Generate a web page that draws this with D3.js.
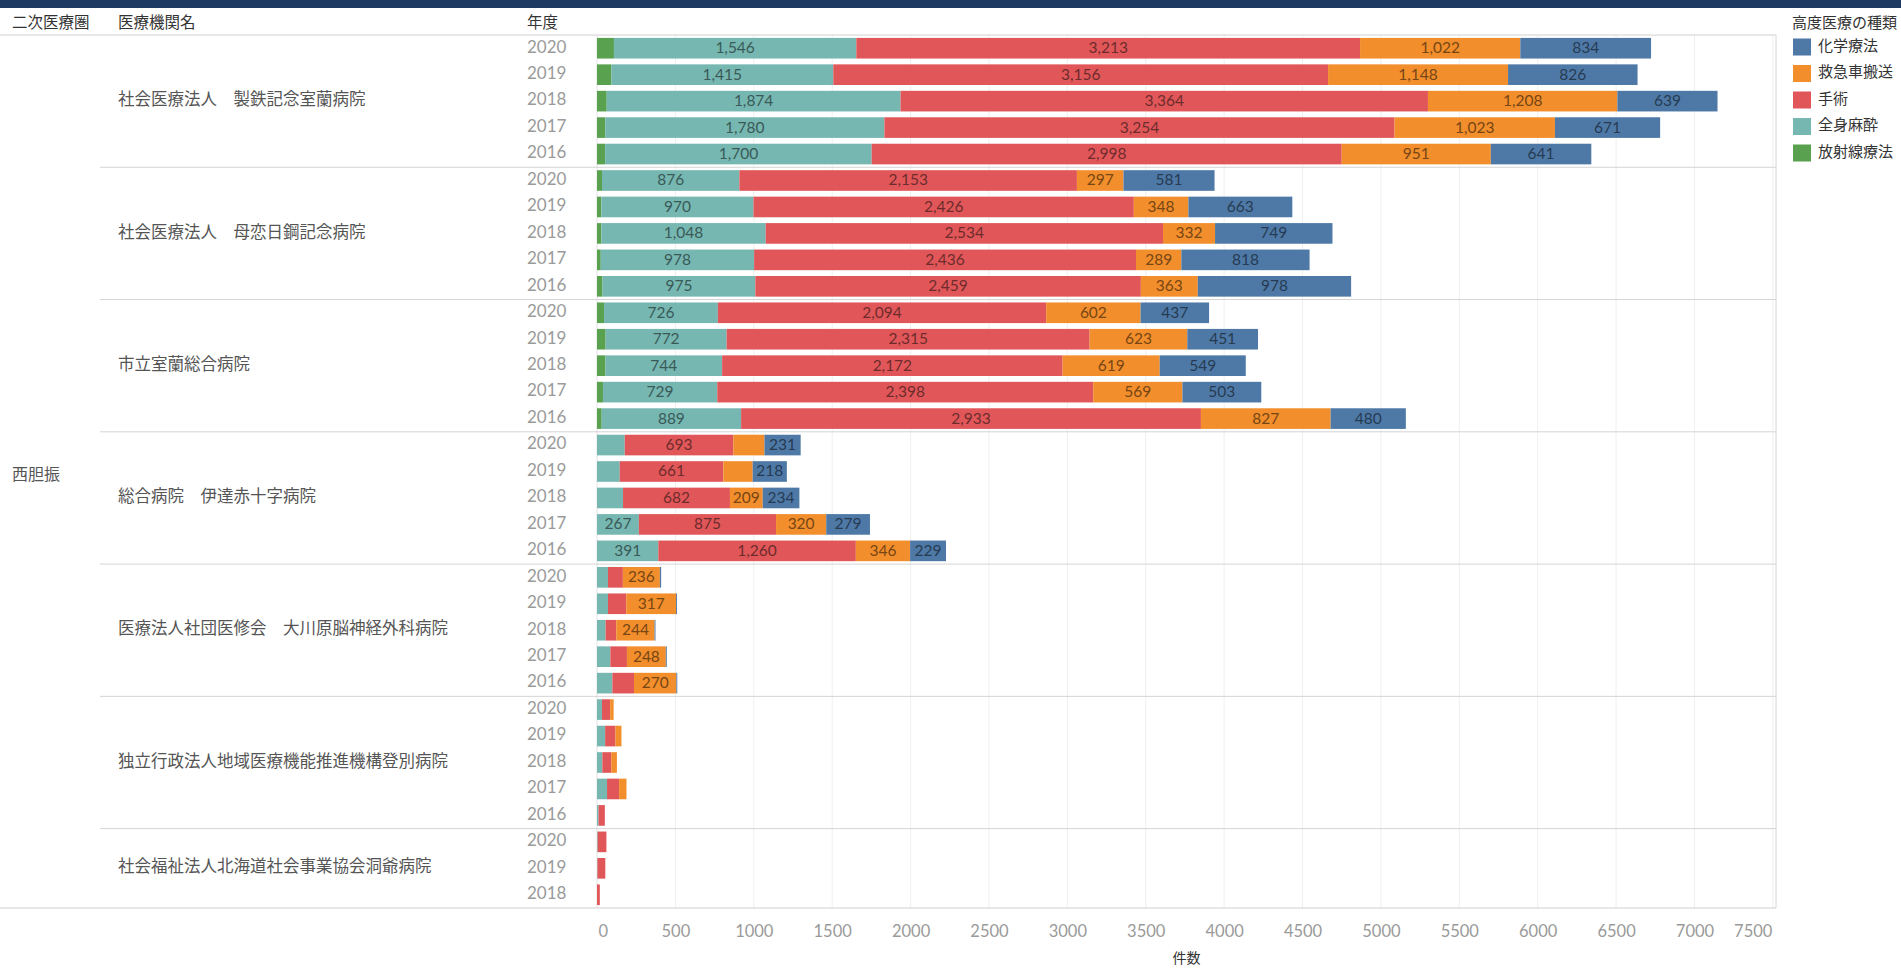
<!DOCTYPE html>
<html>
<head>
<meta charset="utf-8">
<script src="https://cdn.jsdelivr.net/npm/d3@7"></script>
<style>
  body { margin: 0; background: #fff; }
  svg { display: block; font-family: Lato, "Noto Sans CJK JP", sans-serif; }
</style>
</head>
<body>
<svg id="chart" width="1901" height="969"></svg>
<script>
// Data
const region = "西胆振";

const hospitals = [
  "社会医療法人　製鉄記念室蘭病院",
  "社会医療法人　母恋日鋼記念病院",
  "市立室蘭総合病院",
  "総合病院　伊達赤十字病院",
  "医療法人社団医修会　大川原脳神経外科病院",
  "独立行政法人地域医療機能推進機構登別病院",
  "社会福祉法人北海道社会事業協会洞爺病院"
];

const hospitalYears = [
  [2020, 2019, 2018, 2017, 2016],
  [2020, 2019, 2018, 2017, 2016],
  [2020, 2019, 2018, 2017, 2016],
  [2020, 2019, 2018, 2017, 2016],
  [2020, 2019, 2018, 2017, 2016],
  [2020, 2019, 2018, 2017, 2016],
  [2020, 2019, 2018]
];

// one value per row, rows in the order hospital -> year (as drawn)
const radiation = [
  108, 92, 62, 53, 52,
  32, 28, 28, 24, 35,
  45, 55, 54, 38, 30,
  0, 0, 0, 0, 0,
  0, 0, 0, 0, 0,
  0, 0, 0, 0, 0,
  0, 0, 0
];
const anesthesia = [
  1546, 1415, 1874, 1780, 1700,
  876, 970, 1048, 978, 975,
  726, 772, 744, 729, 889,
  177, 145, 166, 267, 391,
  70, 70, 55, 85, 98,
  32, 52, 34, 64, 10,
  4, 3, 0
];
const surgery = [
  3213, 3156, 3364, 3254, 2998,
  2153, 2426, 2534, 2436, 2459,
  2094, 2315, 2172, 2398, 2933,
  693, 661, 682, 875, 1260,
  95, 117, 68, 106, 138,
  52, 66, 57, 77, 40,
  56, 50, 18
];
const ambulance = [
  1022, 1148, 1208, 1023, 951,
  297, 348, 332, 289, 363,
  602, 623, 619, 569, 827,
  198, 187, 209, 320, 346,
  236, 317, 244, 248, 270,
  22, 38, 36, 47, 0,
  0, 0, 0
];
const chemo = [
  834, 826, 639, 671, 641,
  581, 663, 749, 818, 978,
  437, 451, 549, 503, 480,
  231, 218, 234, 279, 229,
  8, 6, 6, 6, 6,
  0, 0, 0, 0, 0,
  0, 0, 0
];

const seriesNames = ["放射線療法", "全身麻酔", "手術", "救急車搬送", "化学療法"];
const seriesColors = ["#59a14f", "#76b7b2", "#e15759", "#f28e2b", "#4e79a7"];
const legendOrder = ["化学療法", "救急車搬送", "手術", "全身麻酔", "放射線療法"];
const xTicks = [0, 500, 1000, 1500, 2000, 2500, 3000, 3500, 4000, 4500, 5000, 5500, 6000, 6500, 7000, 7500];

// Build row table for the stack
const rows = [];
hospitals.forEach((h, hi) => {
  hospitalYears[hi].forEach((yr) => rows.push({ hospital: h, hi: hi, year: yr }));
});
const valueArrays = [radiation, anesthesia, surgery, ambulance, chemo];
rows.forEach((r, i) => {
  r.key = r.hospital + "|" + r.year;
  seriesNames.forEach((s, si) => (r[s] = valueArrays[si][i]));
});

const svg = d3.select("#chart");
const topY = 35, bottomY = 908;
const paneLeft = 597, paneRight = 1776;

const x = d3.scaleLinear().domain([0, 7520]).range([paneLeft, paneRight]);
const y = d3.scaleBand()
  .domain(rows.map((d) => d.key))
  .range([topY, bottomY])
  .paddingInner(0.22)
  .paddingOuter(0.11);
const color = d3.scaleOrdinal().domain(seriesNames).range(seriesColors);
const rowTop = (key) => y(key) - (y.step() * y.paddingInner()) / 2;

// Top banner
svg.append("rect").attr("x", 0).attr("y", 0).attr("width", 1901).attr("height", 8).attr("fill", "#1f3a62");

// Gridlines
svg.append("g")
  .selectAll("line")
  .data(xTicks)
  .enter()
  .append("line")
  .attr("x1", (d) => x(d))
  .attr("x2", (d) => x(d))
  .attr("y1", topY)
  .attr("y2", bottomY)
  .attr("stroke", (d) => (d === 0 ? "#e2e2e2" : "#efefef"))
  .attr("stroke-width", 1);

// Pane right border
svg.append("line")
  .attr("x1", paneRight).attr("x2", paneRight)
  .attr("y1", topY).attr("y2", bottomY)
  .attr("stroke", "#d6d6d6");

// Horizontal rules
svg.append("line").attr("x1", 0).attr("x2", paneRight).attr("y1", topY).attr("y2", topY).attr("stroke", "#d0d0d0");
svg.append("line").attr("x1", 0).attr("x2", paneRight).attr("y1", bottomY).attr("y2", bottomY).attr("stroke", "#d0d0d0");

const groupFirst = hospitals.map((h) => rows.find((r) => r.hospital === h));
const groupLast = hospitals.map((h) => rows.filter((r) => r.hospital === h).pop());

svg.append("g")
  .selectAll("line")
  .data(groupFirst.slice(1))
  .enter()
  .append("line")
  .attr("x1", 100)
  .attr("x2", paneRight)
  .attr("y1", (d) => rowTop(d.key))
  .attr("y2", (d) => rowTop(d.key))
  .attr("stroke", "#d4d4d4");

// Column headers
const headers = [
  { text: "二次医療圏", x: 12 },
  { text: "医療機関名", x: 118 },
  { text: "年度", x: 527 }
];
svg.append("g")
  .selectAll("text")
  .data(headers)
  .enter()
  .append("text")
  .attr("x", (d) => d.x)
  .attr("y", 24)
  .attr("dominant-baseline", "middle")
  .attr("font-size", 15.5)
  .attr("fill", "#333")
  .text((d) => d.text);

// Region label
svg.append("text")
  .attr("x", 12)
  .attr("y", (topY + bottomY) / 2 + 4)
  .attr("dominant-baseline", "middle")
  .attr("font-size", 16)
  .attr("fill", "#555")
  .text(region);

// Hospital labels
svg.append("g")
  .selectAll("text")
  .data(hospitals)
  .enter()
  .append("text")
  .attr("x", 118)
  .attr("y", (d, i) => (rowTop(groupFirst[i].key) + rowTop(groupLast[i].key) + y.step()) / 2)
  .attr("dominant-baseline", "middle")
  .attr("font-size", 16.5)
  .attr("fill", "#555")
  .text((d) => d);

// Year labels
svg.append("g")
  .selectAll("text")
  .data(rows)
  .enter()
  .append("text")
  .attr("x", 527)
  .attr("y", (d) => y(d.key) + y.bandwidth() / 2)
  .attr("dominant-baseline", "middle")
  .attr("font-size", 17)
  .attr("fill", "#9a9a9a")
  .text((d) => d.year);

// Stacked bars
const stacked = d3.stack().keys(seriesNames)(rows);
const fmt = d3.format(",");

const layers = svg.append("g")
  .selectAll("g")
  .data(stacked)
  .enter()
  .append("g")
  .attr("fill", (d) => color(d.key));

layers.selectAll("rect")
  .data((d) => d)
  .enter()
  .append("rect")
  .attr("x", (d) => x(d[0]))
  .attr("y", (d) => y(d.data.key))
  .attr("width", (d) => x(d[1]) - x(d[0]))
  .attr("height", y.bandwidth());

// Segment labels (only where they fit, never on 放射線療法)
layers.selectAll("text")
  .data((d) =>
    d.map((p) => ({ p: p, key: d.key }))
      .filter((o) => o.key !== "放射線療法" && x(o.p[1]) - x(o.p[0]) >= 32)
  )
  .enter()
  .append("text")
  .attr("x", (d) => (x(d.p[0]) + x(d.p[1])) / 2)
  .attr("y", (d) => y(d.p.data.key) + y.bandwidth() / 2 + 1)
  .attr("text-anchor", "middle")
  .attr("dominant-baseline", "middle")
  .attr("font-size", 15.5)
  .attr("fill", (d) => d3.color(color(d.key)).darker(2).formatHex())
  .text((d) => fmt(d.p[1] - d.p[0]));

// X axis
const axis = svg.append("g")
  .attr("transform", `translate(0, ${bottomY + 14})`)
  .call(d3.axisBottom(x).tickValues(xTicks).tickSize(0).tickFormat(d3.format("d")));
axis.select(".domain").remove();
axis.selectAll("text")
  .attr("font-size", 16.5)
  .attr("fill", "#9a9a9a")
  .attr("font-family", "Lato, sans-serif");
axis.selectAll(".tick")
  .filter((d) => d === 0)
  .select("text")
  .attr("text-anchor", "start")
  .attr("dx", 1);
axis.selectAll(".tick")
  .filter((d) => d === 7500)
  .select("text")
  .attr("text-anchor", "end")
  .attr("dx", -1);

svg.append("text")
  .attr("x", (paneLeft + paneRight) / 2)
  .attr("y", 959)
  .attr("text-anchor", "middle")
  .attr("dominant-baseline", "middle")
  .attr("font-size", 14)
  .attr("fill", "#333")
  .text("件数");

// Legend
const legend = svg.append("g").attr("transform", "translate(1792, 0)");
legend.append("text")
  .attr("x", 0)
  .attr("y", 24)
  .attr("dominant-baseline", "middle")
  .attr("font-size", 15)
  .attr("fill", "#333")
  .text("高度医療の種類");

const items = legend.selectAll("g.item")
  .data(legendOrder)
  .enter()
  .append("g")
  .attr("class", "item")
  .attr("transform", (d, i) => `translate(0, ${47 + i * 26.5})`);
items.append("rect")
  .attr("x", 1)
  .attr("y", -8.5)
  .attr("width", 18)
  .attr("height", 17)
  .attr("fill", (d) => color(d));
items.append("text")
  .attr("x", 26)
  .attr("y", 0)
  .attr("dominant-baseline", "middle")
  .attr("font-size", 15)
  .attr("fill", "#333")
  .text((d) => d);
</script>
</body>
</html>
